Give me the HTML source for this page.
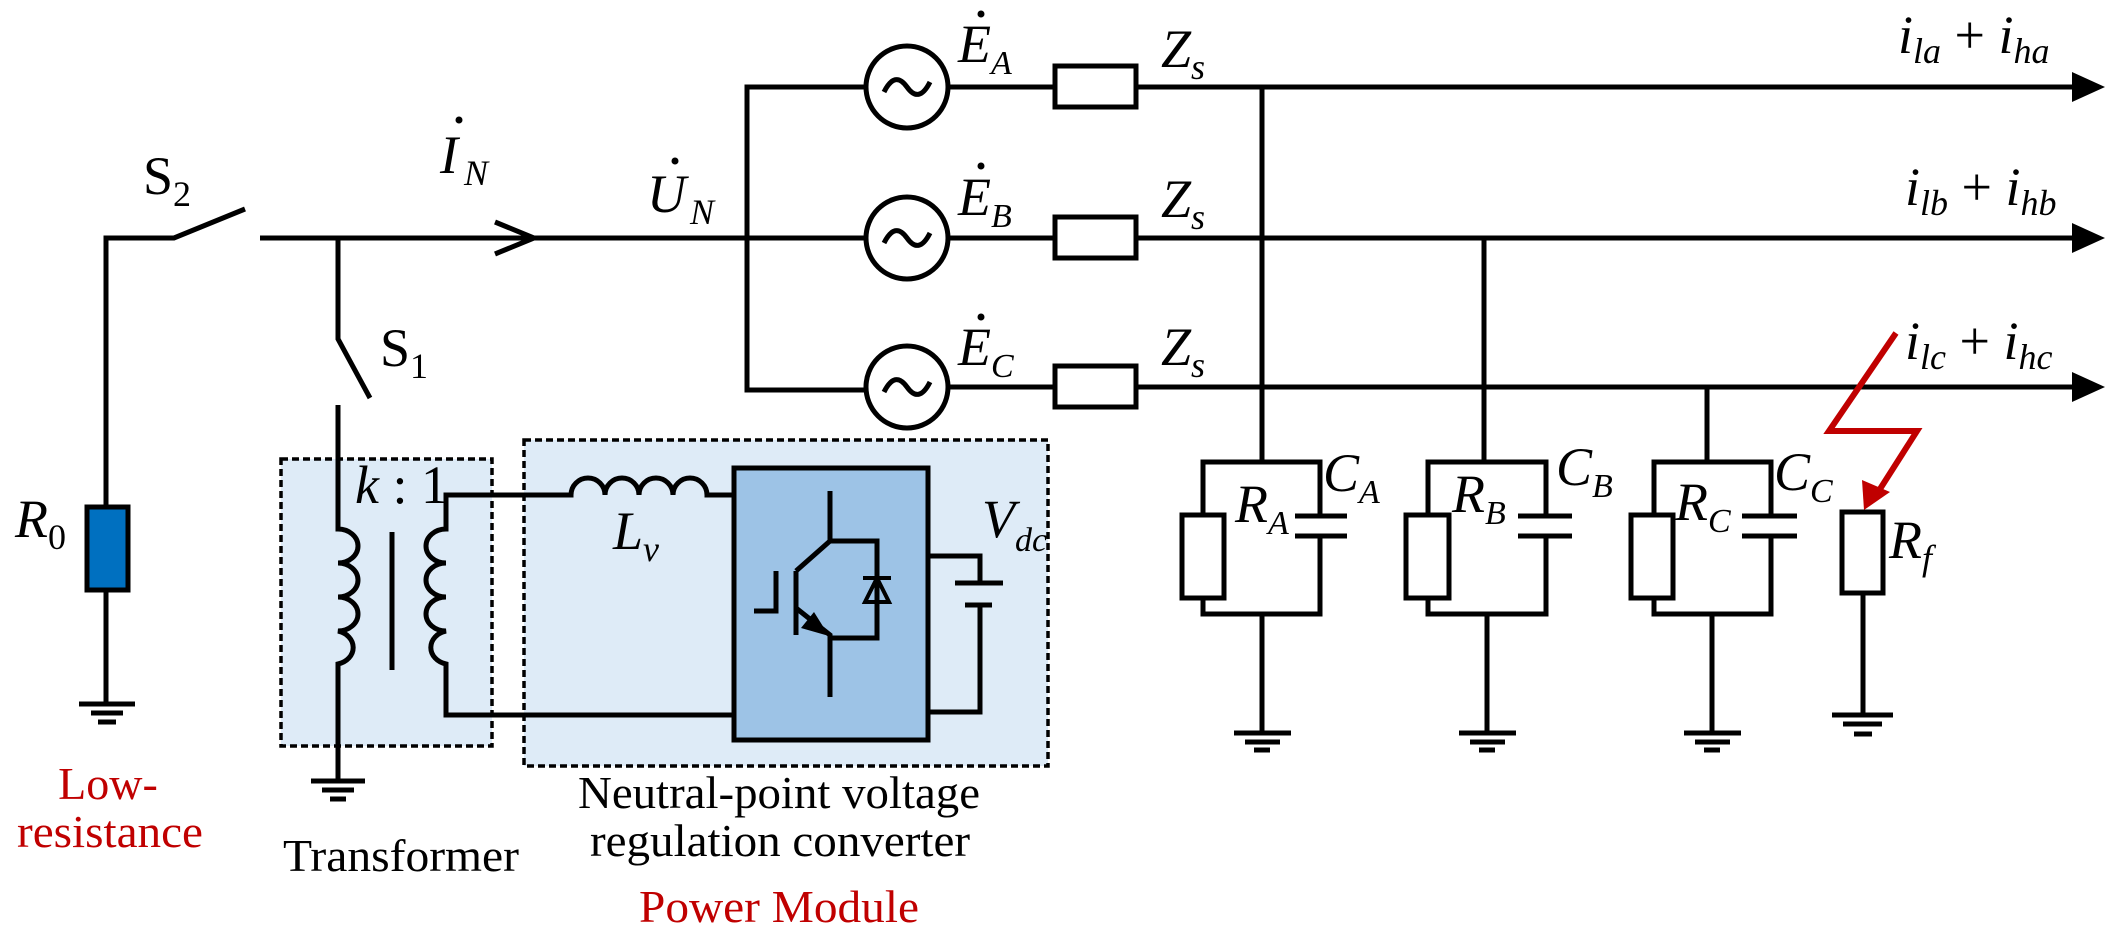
<!DOCTYPE html>
<html><head><meta charset="utf-8"><style>body{margin:0;background:#fff}svg{display:block}text{font-family:"Liberation Serif","Times New Roman",serif}</style></head><body>
<svg width="2118" height="942" viewBox="0 0 2118 942" xmlns="http://www.w3.org/2000/svg">
<g fill="none" stroke="#000" stroke-width="5">
<rect x="281" y="459" width="211" height="287" fill="#deebf7" stroke-dasharray="7,4" stroke-width="3.5"/>
<rect x="524" y="440" width="524" height="326" fill="#deebf7" stroke-dasharray="7,4" stroke-width="3.5"/>
<rect x="734" y="468" width="194" height="272" fill="#9dc3e6"/>
<polyline points="106,507 106,238 174,238 245,209"/>
<rect x="87" y="507" width="41" height="83" fill="#0070c0"/>
<line x1="106" y1="590" x2="106" y2="704"/>
<line x1="79" y1="704" x2="135" y2="704"/><line x1="91" y1="713" x2="123" y2="713"/><line x1="98" y1="722" x2="116" y2="722"/>
<line x1="260" y1="238" x2="747" y2="238"/>
<polyline points="495,222 534,238 495,254"/>
<polyline points="338,238 338,339 370,398"/>
<path d="M338,405 V529 a20,17 0 0 1 0,34 a20,17 0 0 1 0,34 a20,17 0 0 1 0,34 a20,17 0 0 1 0,33 V781"/>
<line x1="311" y1="781" x2="365" y2="781"/><line x1="322" y1="790" x2="354" y2="790"/><line x1="330" y1="799" x2="346" y2="799"/>
<line x1="392" y1="532" x2="392" y2="670"/>
<path d="M734,495 H707 a17,17 0 0 0 -34,0 a17,17 0 0 0 -34,0 a17,17 0 0 0 -34,0 a17,17 0 0 0 -34,0 H446 V529 a20,17 0 0 0 0,34 a20,17 0 0 0 0,34 a20,17 0 0 0 0,34 a20,17 0 0 0 0,33 V715 H734"/>
<polyline points="928,556 980,556 980,583"/>
<line x1="955" y1="583" x2="1003" y2="583"/><line x1="965" y1="605" x2="992" y2="605"/>
<polyline points="980,605 980,712 928,712"/>
<polyline points="830,491 830,541 796,571"/>
<line x1="796" y1="571" x2="796" y2="635"/>
<polyline points="754,611 776,611 776,571"/>
<polyline points="796,608 830,635 830,697"/>
<polyline points="830,541 877,541 877,638 830,638"/>
<polyline points="907,87 747,87 747,390 907,390"/>
<line x1="747" y1="238" x2="907" y2="238"/>
</g>
<polygon points="829,636 801,628 814,612" fill="#000"/>
<polygon points="865,602 889,602 877,578" fill="none" stroke="#000" stroke-width="4"/>
<line x1="863" y1="578" x2="891" y2="578" stroke="#000" stroke-width="4"/>
<g fill="#fff" stroke="#000" stroke-width="5">
<circle cx="907" cy="87" r="41"/><circle cx="907" cy="238" r="41"/><circle cx="907" cy="387" r="41"/>
</g>
<g fill="none" stroke="#000" stroke-width="5">
<path d="M884,92 q11,-22 23,-5 q12,17 23,-5"/>
<path d="M884,243 q11,-22 23,-5 q12,17 23,-5"/>
<path d="M884,392 q11,-22 23,-5 q12,17 23,-5"/>
<line x1="949" y1="87" x2="1055" y2="87"/><line x1="949" y1="238" x2="1055" y2="238"/><line x1="949" y1="387" x2="1055" y2="387"/>
<rect x="1055" y="66" width="81" height="41"/><rect x="1055" y="217" width="81" height="41"/><rect x="1055" y="366" width="81" height="41"/>
<line x1="1136" y1="87" x2="2080" y2="87"/><line x1="1136" y1="238" x2="2080" y2="238"/><line x1="1136" y1="387" x2="2080" y2="387"/>
<line x1="1262" y1="87" x2="1262" y2="462"/>
<polyline points="1203,515 1203,462 1320,462 1320,516"/><polyline points="1320,536 1320,614 1203,614 1203,598"/>
<rect x="1182" y="515" width="42" height="83"/>
<line x1="1295" y1="516" x2="1347" y2="516"/><line x1="1295" y1="536" x2="1347" y2="536"/>
<line x1="1262" y1="614" x2="1262" y2="733"/>
<line x1="1234" y1="733" x2="1291" y2="733"/><line x1="1245" y1="742" x2="1280" y2="742"/><line x1="1254" y1="750" x2="1270" y2="750"/>
<line x1="1484" y1="238" x2="1484" y2="462"/>
<polyline points="1428,515 1428,462 1546,462 1546,516"/><polyline points="1546,536 1546,614 1428,614 1428,598"/>
<rect x="1406" y="515" width="43" height="83"/>
<line x1="1518" y1="516" x2="1572" y2="516"/><line x1="1518" y1="536" x2="1572" y2="536"/>
<line x1="1487" y1="614" x2="1487" y2="733"/>
<line x1="1459" y1="733" x2="1516" y2="733"/><line x1="1470" y1="742" x2="1505" y2="742"/><line x1="1479" y1="750" x2="1495" y2="750"/>
<line x1="1707" y1="387" x2="1707" y2="462"/>
<polyline points="1654,515 1654,462 1771,462 1771,516"/><polyline points="1771,536 1771,614 1654,614 1654,598"/>
<rect x="1631" y="515" width="42" height="83"/>
<line x1="1742" y1="516" x2="1797" y2="516"/><line x1="1742" y1="536" x2="1797" y2="536"/>
<line x1="1712" y1="614" x2="1712" y2="733"/>
<line x1="1684" y1="733" x2="1741" y2="733"/><line x1="1695" y1="742" x2="1730" y2="742"/><line x1="1704" y1="750" x2="1720" y2="750"/>
<rect x="1842" y="512" width="41" height="81"/>
<line x1="1863" y1="593" x2="1863" y2="715"/>
<line x1="1832" y1="715" x2="1893" y2="715"/><line x1="1843" y1="724" x2="1882" y2="724"/><line x1="1854" y1="734" x2="1872" y2="734"/>
</g>
<g fill="#000">
<polygon points="2072,72 2105,87 2072,102"/><polygon points="2072,223 2105,238 2072,253"/><polygon points="2072,372 2105,387 2072,402"/>
</g>
<polyline points="1896,333 1829,431 1917,431 1873,500" fill="none" stroke="#c00000" stroke-width="6"/>
<polygon points="1864,510 1862,480 1890,492" fill="#c00000"/>
<g font-size="54" fill="#000">
<text x="143" y="194">S<tspan font-size="36" dy="12">2</tspan></text>
<text x="380" y="366">S<tspan font-size="36" dy="12">1</tspan></text>
<text x="15" y="537" font-style="italic">R<tspan font-size="36" dy="12" font-style="normal">0</tspan></text>
<text x="440" y="173" font-style="italic">I<tspan font-size="36" dx="6" dy="12">N</tspan></text>
<text x="647" y="212" font-style="italic">U<tspan font-size="36" dx="4" dy="12">N</tspan></text>
<text x="355" y="503"><tspan font-style="italic">k</tspan> : 1</text>
<text x="613" y="549" font-style="italic">L<tspan font-size="36" dy="12">v</tspan></text>
<text x="982" y="537" font-style="italic">V<tspan font-size="34" dy="14">dc</tspan></text>
<text x="958" y="62" font-style="italic">E<tspan font-size="34" dy="12">A</tspan></text>
<text x="958" y="215" font-style="italic">E<tspan font-size="34" dy="12">B</tspan></text>
<text x="958" y="365" font-style="italic">E<tspan font-size="34" dy="12">C</tspan></text>
<text x="1161" y="67" font-style="italic">Z<tspan font-size="36" dy="12">s</tspan></text>
<text x="1161" y="217" font-style="italic">Z<tspan font-size="36" dy="12">s</tspan></text>
<text x="1161" y="365" font-style="italic">Z<tspan font-size="36" dy="12">s</tspan></text>
<text x="1898" y="53" font-style="italic">i<tspan font-size="36" dy="10">la</tspan><tspan dy="-10" font-style="normal"> + </tspan>i<tspan font-size="36" dy="10">ha</tspan></text>
<text x="1905" y="205" font-style="italic">i<tspan font-size="36" dy="10">lb</tspan><tspan dy="-10" font-style="normal"> + </tspan>i<tspan font-size="36" dy="10">hb</tspan></text>
<text x="1905" y="359" font-style="italic">i<tspan font-size="36" dy="10">lc</tspan><tspan dy="-10" font-style="normal"> + </tspan>i<tspan font-size="36" dy="10">hc</tspan></text>
<text x="1235" y="522" font-style="italic">R<tspan font-size="34" dy="12">A</tspan></text>
<text x="1323" y="491" font-style="italic">C<tspan font-size="34" dy="12">A</tspan></text>
<text x="1452" y="512" font-style="italic">R<tspan font-size="34" dy="12">B</tspan></text>
<text x="1556" y="485" font-style="italic">C<tspan font-size="34" dy="12">B</tspan></text>
<text x="1675" y="520" font-style="italic">R<tspan font-size="34" dy="12">C</tspan></text>
<text x="1774" y="490" font-style="italic">C<tspan font-size="34" dy="12">C</tspan></text>
<text x="1889" y="558" font-style="italic">R<tspan font-size="36" dy="12">f</tspan></text>
</g>
<g fill="#000">
<circle cx="459" cy="120" r="3.5"/><circle cx="675" cy="161" r="3.5"/>
<circle cx="981" cy="14" r="3.5"/><circle cx="981" cy="166" r="3.5"/><circle cx="981" cy="317" r="3.5"/>
</g>
<g font-size="46">
<text x="108" y="799" fill="#c00000" text-anchor="middle">Low-</text>
<text x="17" y="847" fill="#c00000" textLength="186" lengthAdjust="spacingAndGlyphs">resistance</text>
<text x="283" y="871" textLength="236" lengthAdjust="spacingAndGlyphs">Transformer</text>
<text x="578" y="808" textLength="402" lengthAdjust="spacingAndGlyphs">Neutral-point voltage</text>
<text x="590" y="856" textLength="380" lengthAdjust="spacingAndGlyphs">regulation converter</text>
<text x="639" y="922" fill="#c00000" textLength="280" lengthAdjust="spacingAndGlyphs">Power Module</text>
</g>
</svg>
</body></html>
